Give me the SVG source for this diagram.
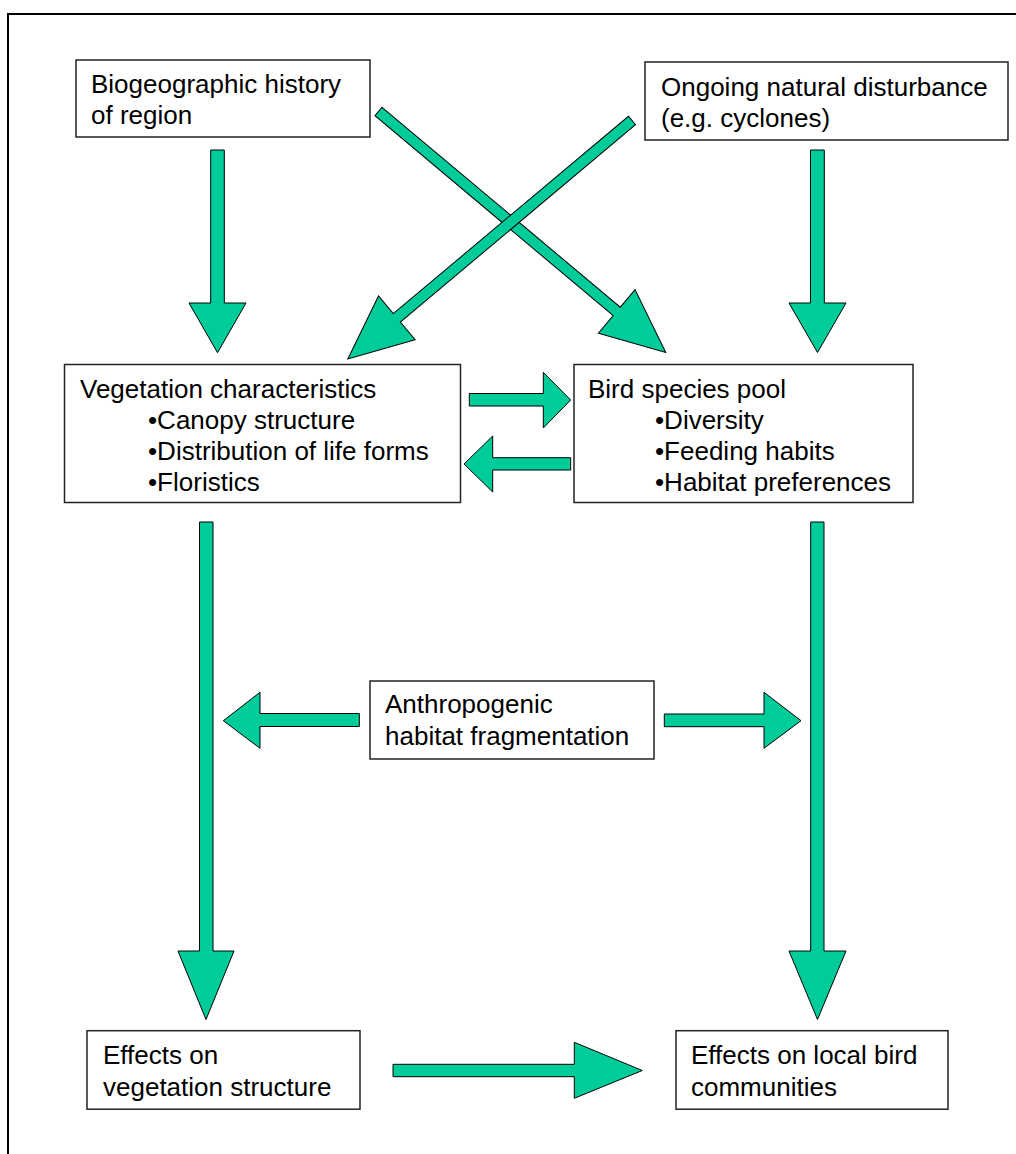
<svg xmlns="http://www.w3.org/2000/svg" width="1016" height="1154" viewBox="0 0 1016 1154">
<style>
.box{fill:#fff;stroke:#222;stroke-width:1.5}
.arr{fill:#00CC99;stroke:#000;stroke-width:1;stroke-linejoin:miter}
text{font-family:"Liberation Sans",Arial,sans-serif;font-size:26px;fill:#000}
</style>
<rect x="0" y="0" width="1016" height="1154" fill="#fff"/>
<path d="M8,1154 V14 H1016" fill="none" stroke="#000" stroke-width="2"/>

<g id="connectors">
  <!-- top vertical arrows -->
  <polygon class="arr" points="210.7,150 224.3,150 224.3,303 246,303 217.5,352.7 189,303 210.7,303"/>
  <polygon class="arr" points="810.5,150 824.3,150 824.3,303 846,303 817.5,352.5 789,303 810.5,303"/>
  <!-- diagonal arrows -->
  <g transform="translate(378.5,111.5) rotate(40)">
    <polygon class="arr" points="0,-5.5 311,-5.5 311,-28.5 375,0 311,28.5 311,5.5 0,5.5"/>
  </g>
  <g transform="translate(632,120.5) rotate(140)">
    <polygon class="arr" points="0,-5.5 307,-5.5 307,-28.5 371,0 307,28.5 307,5.5 0,5.5"/>
  </g>
  <!-- veg <-> bird -->
  <polygon class="arr" points="469.3,393.5 543.3,393.5 543.3,372.3 570.7,400 543.3,428 543.3,406 469.3,406"/>
  <polygon class="arr" points="570.7,457.7 492.7,457.7 492.7,436 464,464 492.7,492 492.7,470 570.7,470"/>
  <!-- long vertical arrows -->
  <polygon class="arr" points="199.5,522 213,522 213,951 234,951 206,1019.5 178,951 199.5,951"/>
  <polygon class="arr" points="810.7,522 824,522 824,951 846,951 817.5,1019.5 789,951 810.7,951"/>
  <!-- anthropogenic arrows -->
  <polygon class="arr" points="359.3,713.5 260,713.5 260,692.3 223.3,720.7 260,748.3 260,726.5 359.3,726.5"/>
  <polygon class="arr" points="664.3,714 764,714 764,692.3 801,720.7 764,748.3 764,726.7 664.3,726.7"/>
  <!-- bottom arrow -->
  <polygon class="arr" points="393,1064.3 574.3,1064.3 574.3,1042.3 642.3,1070.5 574.3,1098.3 574.3,1076.7 393,1076.7"/>
</g>

<g id="biogeographic">
  <rect class="box" x="76" y="60" width="294" height="77"/>
  <text x="91" y="93">Biogeographic history</text>
  <text x="91" y="124">of region</text>
</g>
<g id="disturbance">
  <rect class="box" x="645" y="62" width="363" height="78"/>
  <text x="661" y="95.5">Ongoing natural disturbance</text>
  <text x="661" y="127">(e.g. cyclones)</text>
</g>
<g id="vegetation">
  <rect class="box" x="64.5" y="364.5" width="396" height="138"/>
  <text x="80" y="398">Vegetation characteristics</text>
  <text x="148" y="429">•Canopy structure</text>
  <text x="148" y="460">•Distribution of life forms</text>
  <text x="148" y="491">•Floristics</text>
</g>
<g id="birdpool">
  <rect class="box" x="574" y="364.5" width="339" height="138"/>
  <text x="588" y="398">Bird species pool</text>
  <text x="655" y="429">•Diversity</text>
  <text x="655" y="460">•Feeding habits</text>
  <text x="655" y="491">•Habitat preferences</text>
</g>
<g id="anthropogenic">
  <rect class="box" x="370" y="681" width="284" height="78"/>
  <text x="385" y="713">Anthropogenic</text>
  <text x="385" y="745">habitat fragmentation</text>
</g>
<g id="effects-vegetation">
  <rect class="box" x="87" y="1030.7" width="273" height="78.5"/>
  <text x="103" y="1064">Effects on</text>
  <text x="103" y="1095.5">vegetation structure</text>
</g>
<g id="effects-birds">
  <rect class="box" x="676" y="1030.7" width="272" height="78.5"/>
  <text x="691" y="1064">Effects on local bird</text>
  <text x="691" y="1095.5">communities</text>
</g>
</svg>
